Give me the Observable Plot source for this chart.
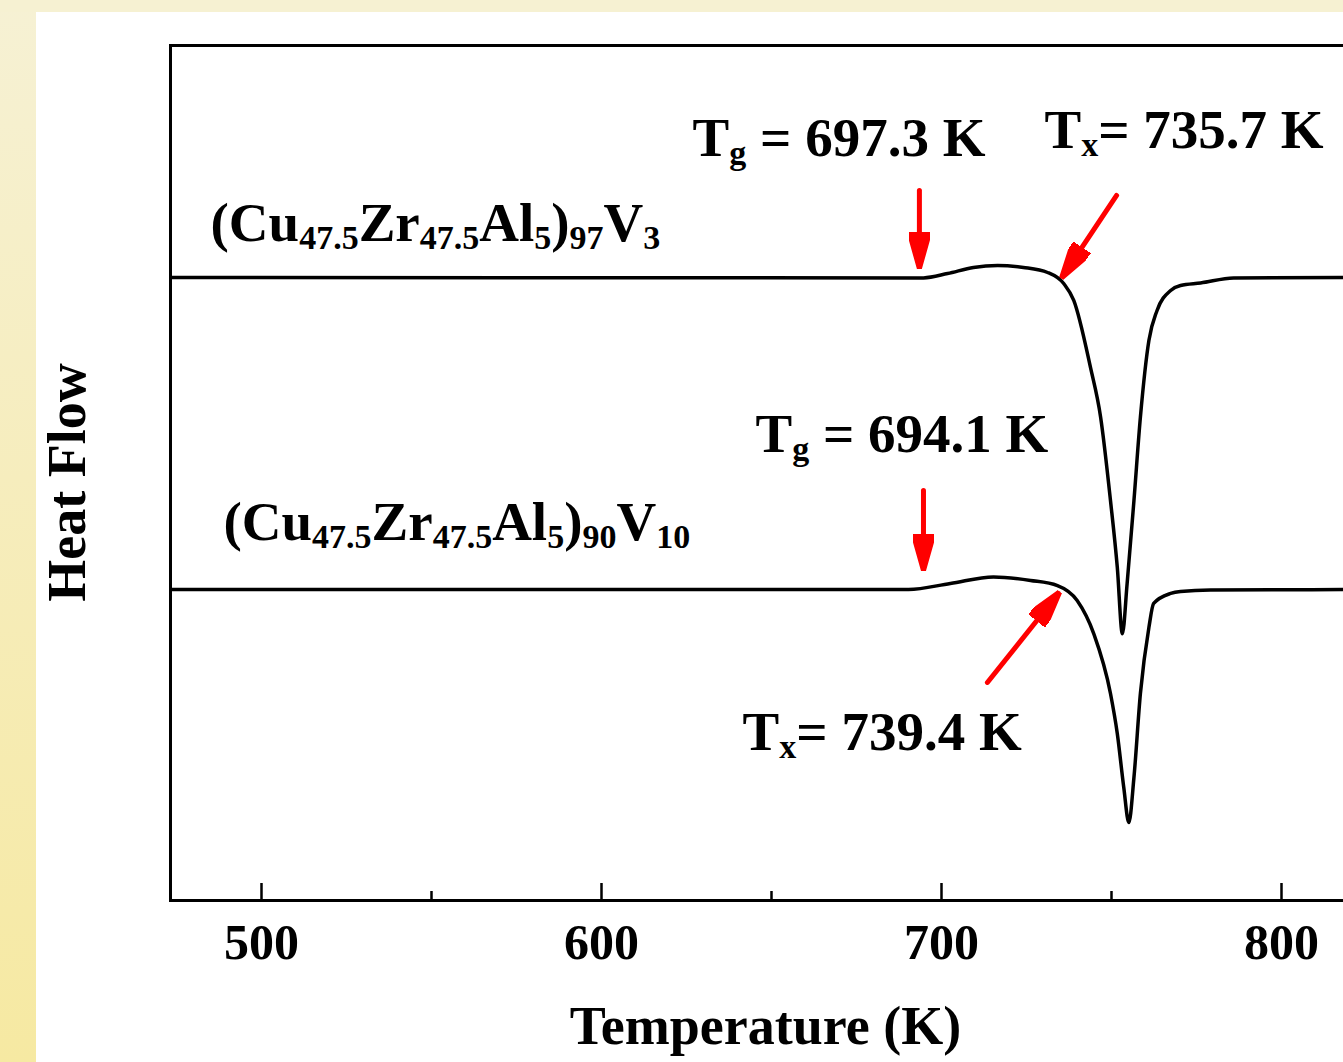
<!DOCTYPE html>
<html><head><meta charset="utf-8">
<script src="https://cdn.jsdelivr.net/npm/d3@7"></script>
<script src="https://cdn.jsdelivr.net/npm/@observablehq/plot@0.6"></script>
<style>
html,body{margin:0;padding:0;overflow:hidden;width:1343px;height:1062px;}
body{position:relative;background:linear-gradient(to bottom,#f6f1d4 0%,#f6edbd 45%,#f6e9a2 100%);}
#topband{position:absolute;left:0;top:0;width:1343px;height:12px;background:#f6f1d2;}
#chart{position:absolute;left:36px;top:12px;width:1307px;height:1050px;background:#fff;overflow:hidden;}
#chart svg{display:block;max-width:none;}
</style></head><body>
<div id="topband"></div><div id="chart"></div>
<script>
// ---- data ----
const tempV3 = [473.3, 694.7, 701.8, 709.4, 716.5, 724.1, 731.2, 736.0, 738.9, 743.8, 746.8, 749.7, 751.7, 753.2, 754.6, 756.6, 758.5, 761.0, 763.4, 767.4, 770.3, 776.2, 785.9, 830];
const heatV3 = [7.287, 7.282, 7.333, 7.404, 7.427, 7.404, 7.345, 7.213, 7.018, 6.237, 5.653, 4.678, 3.898, 3.119, 3.708, 4.678, 5.653, 6.550, 6.901, 7.135, 7.193, 7.222, 7.281, 7.287];
const tempV10 = [473.3, 690.3, 702.6, 715.3, 726.2, 734.1, 739.9, 744.8, 749.7, 751.7, 753.6, 755.1, 756.6, 758.5, 761.0, 762.4, 767.4, 770.3, 779.1, 830];
const heatV10 = [3.637, 3.637, 3.708, 3.784, 3.743, 3.684, 3.509, 3.119, 2.421, 1.953, 1.325, 0.912, 1.439, 2.421, 3.193, 3.474, 3.591, 3.614, 3.632, 3.637];

const majorTicks = [500, 600, 700, 800];
const minorTicks = [550, 650, 750];

const annText = ["(Cu_{47.5}Zr_{47.5}Al_{5})_{97}V_{3}", "(Cu_{47.5}Zr_{47.5}Al_{5})_{90}V_{10}",
                 "T_{g} = 697.3 K", "T_{x}= 735.7 K", "T_{g} = 694.1 K", "T_{x}= 739.4 K"];
const annT  = [485.0, 488.8, 626.8, 730.3, 645.3, 641.5];
const annHF = [7.708, 4.211, 8.713, 8.807, 5.240, 1.766];

const arrowTailT  = [693.5, 751.5, 694.7, 713.5];
const arrowTailHF = [8.304, 8.246, 4.795, 2.550];
const arrowTipT   = [693.5, 735.6, 694.7, 734.4];
const arrowTipHF  = [7.415, 7.298, 3.883, 3.591];

const xLabel = "Temperature (K)";
const yLabel = "Heat Flow";

// ---- tables ----
const curves = [
  ...tempV3.map((t, i) => ({T: t, HF: heatV3[i], s: "V3"})),
  ...tempV10.map((t, i) => ({T: t, HF: heatV10[i], s: "V10"}))
];
const anns = annText.map((t, i) => ({text: t, T: annT[i], HF: annHF[i]}));
const arrows = arrowTailT.map((t, i) => ({x1: t, y1: arrowTailHF[i], x2: arrowTipT[i], y2: arrowTipHF[i]}));

// ---- layout ----
const W = 1357, H = 1050, mL = 134, mR = 10, mT = 33, mB = 162;
const plotH = H - mT - mB;
const FONT = "'Liberation Serif','Times New Roman',Times,serif";

function triHead(color, context) {
  const doc = (context && context.document) || document;
  const ns = "http://www.w3.org/2000/svg";
  const m = doc.createElementNS(ns, "marker");
  m.setAttribute("viewBox", "0 0 37 21");
  m.setAttribute("markerWidth", 37);
  m.setAttribute("markerHeight", 21);
  m.setAttribute("markerUnits", "userSpaceOnUse");
  m.setAttribute("refX", 35);
  m.setAttribute("refY", 10.5);
  m.setAttribute("orient", "auto");
  const p = doc.createElementNS(ns, "path");
  p.setAttribute("d", "M0,1.5Q0,0 1.5,0.5L37,10.5L1.5,20.5Q0,21 0,19.5Z");
  p.setAttribute("fill", color);
  m.appendChild(p);
  return m;
}

const chart = Plot.plot({
  width: W, height: H,
  marginLeft: mL, marginRight: mR, marginTop: mT, marginBottom: mB,
  x: {domain: [473.235, 830], axis: null},
  y: {domain: [0, 10], axis: null},
  style: {background: "white", maxWidth: "none", fontFamily: FONT},
  marks: [
    Plot.frame({stroke: "black", strokeWidth: 3}),
    Plot.tickX(majorTicks, {x: d => d, insetTop: plotH - 17, stroke: "black", strokeWidth: 2.5}),
    Plot.tickX(minorTicks, {x: d => d, insetTop: plotH - 9, stroke: "black", strokeWidth: 2.5}),
    Plot.text(majorTicks, {x: d => d, frameAnchor: "bottom", dy: 58, text: d => String(d),
      fontSize: 50, fontWeight: "bold", fontFamily: FONT, fill: "black", textAnchor: "middle"}),
    Plot.text([xLabel], {frameAnchor: "bottom", dx: -11.5, dy: 143, text: d => d,
      fontSize: 54, fontWeight: "bold", fontFamily: FONT, fill: "black", textAnchor: "middle"}),
    Plot.text([yLabel], {frameAnchor: "left", dx: -86, dy: 9.5, rotate: -90, text: d => d,
      fontSize: 54, fontWeight: "bold", fontFamily: FONT, fill: "black", textAnchor: "middle"}),
    Plot.line(curves, {x: "T", y: "HF", z: "s", stroke: "black", strokeWidth: 3.5, curve: "monotone-x"}),
    Plot.link(arrows, {x1: "x1", y1: "y1", x2: "x2", y2: "y2", stroke: "#ff0000", strokeWidth: 5,
      strokeLinecap: "round", markerEnd: triHead}),
    Plot.text(anns, {x: "T", y: "HF", text: "text", textAnchor: "start",
      fontSize: 55, fontWeight: "bold", fontFamily: FONT, fill: "black"})
  ]
});
chart.style.maxWidth = "none";
document.getElementById("chart").appendChild(chart);

// ---- subscripts / baselines for text marks ----
const ns = "http://www.w3.org/2000/svg";
d3.select(chart).selectAll('g[aria-label="text"] text').each(function () {
  this.removeAttribute("dy");
  this.removeAttribute("y");
  const s = this.textContent;
  if (!s.includes("_{")) return;
  const fs = parseFloat(getComputedStyle(this).fontSize) || 55;
  const sub = Math.round(fs * 0.62), shift = Math.round(fs * 0.14);
  const parts = s.split(/(_\{[^}]*\})/).filter(p => p.length);
  this.textContent = "";
  let low = false;
  for (const p of parts) {
    const t = document.createElementNS(ns, "tspan");
    if (p.startsWith("_{")) {
      t.textContent = p.slice(2, -1);
      t.setAttribute("font-size", sub);
      if (!low) { t.setAttribute("dy", shift); low = true; }
    } else {
      t.textContent = p;
      if (low) { t.setAttribute("dy", -shift); low = false; }
    }
    this.appendChild(t);
  }
});
</script></body></html>
